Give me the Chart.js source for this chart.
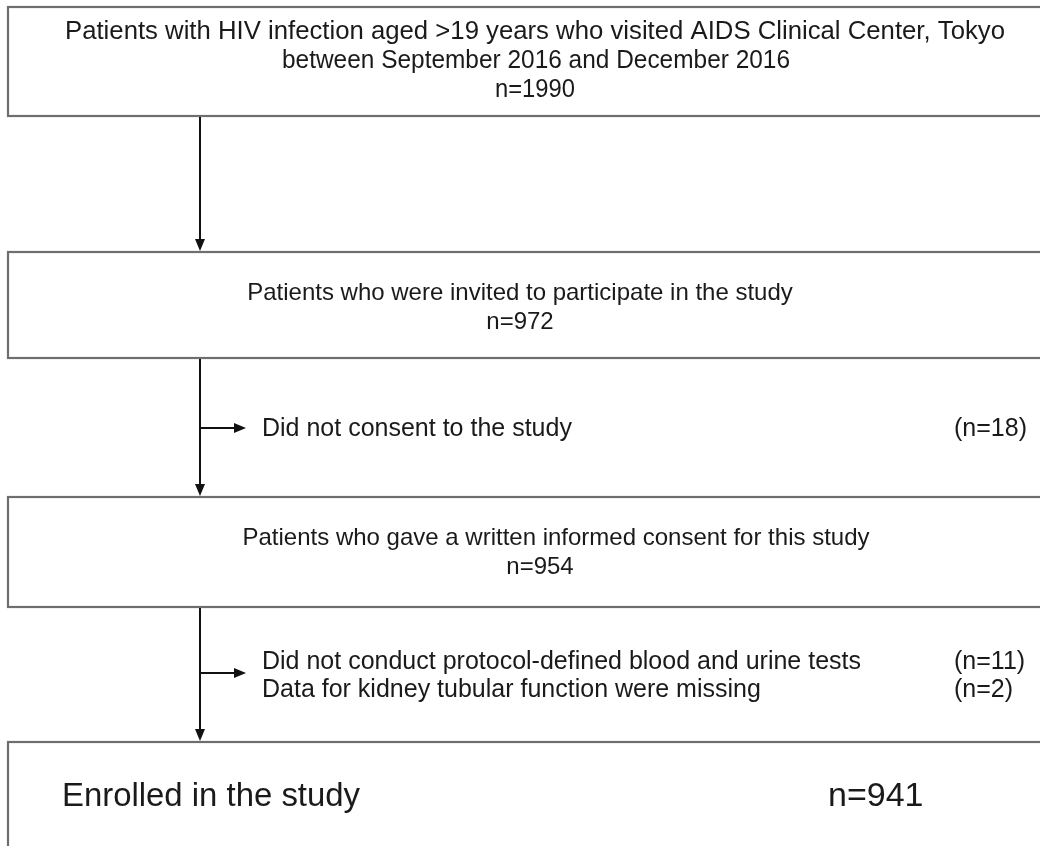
<!DOCTYPE html>
<html>
<head>
<meta charset="utf-8">
<script src="https://cdn.jsdelivr.net/npm/chart.js@4.4.1/dist/chart.umd.min.js"></script>
<style>
  html, body { margin: 0; padding: 0; background: #fff; }
  #flow { display: block; }
</style>
</head>
<body>
<canvas id="flow" width="1040" height="846"></canvas>
<script>
// Flow of patients through the study
const stageLabels = [
    ['Patients with HIV infection aged >19 years who visited AIDS Clinical Center, Tokyo',
     'between September 2016 and December 2016'],
    ['Patients who were invited to participate in the study'],
    ['Patients who gave a written informed consent for this study'],
    ['Enrolled in the study']
];
const stageCounts = [1990, 972, 954, 941];

const exclusionLabels = [
    ['Did not consent to the study'],
    ['Did not conduct protocol-defined blood and urine tests', 'Data for kidney tubular function were missing']
];
const exclusionCounts = [[18], [11, 2]];

// layout, in the units of the (hidden) x / y scales
const boxTop = [7, 252, 497, 742];
const boxBottom = [116, 358, 607, 870];
const boxLeft = 8, boxRight = 1060;
const spineX = 200;
const sideArrowY = [428, 673];
const sideArrowEnd = 246;
const sideTextX = 262;
const sideCountX = 954;
const sideTextY = [[429], [662, 690]];
const lineY = [[32, 61, 90], [293, 322], [538, 567]];
const lineX = [[535, 536, 535], [520, 520], [556, 540]];
// top box uses a condensed face, fitted to the widths in the original
const topBoxWidths = [940, 508, 80];

const FONT = '"Liberation Sans", Arial, sans-serif';

function arrowHead(ctx, x, y, dir) {
    const L = 12, W = 5;
    ctx.beginPath();
    if (dir === 'down') {
        ctx.moveTo(x, y);
        ctx.lineTo(x - W, y - L);
        ctx.lineTo(x + W, y - L);
    } else {
        ctx.moveTo(x, y);
        ctx.lineTo(x - L, y - W);
        ctx.lineTo(x - L, y + W);
    }
    ctx.closePath();
    ctx.fill();
}

function fitText(ctx, text, cx, cy, width) {
    const w = ctx.measureText(text).width;
    ctx.save();
    ctx.translate(cx, cy);
    ctx.scale(width / w, 1);
    ctx.fillText(text, 0, 0);
    ctx.restore();
}

const flowPlugin = {
    id: 'flow',
    afterDraw(chart) {
        const ctx = chart.ctx;
        const xs = chart.scales.x, ys = chart.scales.y;
        const px = v => xs.getPixelForValue(v);
        const py = v => ys.getPixelForValue(v);
        ctx.save();

        // boxes
        ctx.strokeStyle = '#6e6e6e';
        ctx.lineWidth = 2.2;
        stageCounts.forEach((n, i) => {
            ctx.strokeRect(px(boxLeft), py(boxTop[i]), px(boxRight) - px(boxLeft), py(boxBottom[i]) - py(boxTop[i]));
        });

        // spine arrows between boxes
        ctx.strokeStyle = '#111';
        ctx.fillStyle = '#111';
        ctx.lineWidth = 2;
        for (let i = 0; i < stageCounts.length - 1; i++) {
            ctx.beginPath();
            ctx.moveTo(px(spineX), py(boxBottom[i]) + 1);
            ctx.lineTo(px(spineX), py(boxTop[i + 1]) - 6);
            ctx.stroke();
            arrowHead(ctx, px(spineX), py(boxTop[i + 1]) - 1, 'down');
        }

        // side arrows to exclusions
        sideArrowY.forEach(y => {
            ctx.beginPath();
            ctx.moveTo(px(spineX), py(y));
            ctx.lineTo(px(sideArrowEnd) - 6, py(y));
            ctx.stroke();
            arrowHead(ctx, px(sideArrowEnd), py(y), 'right');
        });

        // texts
        ctx.fillStyle = '#1a1a1a';
        ctx.textBaseline = 'middle';
        ctx.textAlign = 'center';

        ctx.font = '26px ' + FONT;
        const topLines = stageLabels[0].concat(['n=' + stageCounts[0]]);
        topLines.forEach((t, j) => fitText(ctx, t, px(lineX[0][j]), py(lineY[0][j]), topBoxWidths[j]));

        ctx.font = '24px ' + FONT;
        for (let i = 1; i < 3; i++) {
            const lines = stageLabels[i].concat(['n=' + stageCounts[i]]);
            lines.forEach((t, j) => ctx.fillText(t, px(lineX[i][j]), py(lineY[i][j])));
        }

        ctx.textAlign = 'left';
        ctx.font = '34px ' + FONT;
        fitText(ctx, stageLabels[3][0], px(62), py(797), 298);
        ctx.fillText('n=' + stageCounts[3], px(828), py(797));

        ctx.font = '25px ' + FONT;
        exclusionLabels.forEach((lines, i) => {
            lines.forEach((t, j) => {
                ctx.fillText(t, px(sideTextX), py(sideTextY[i][j]));
                ctx.fillText('(n=' + exclusionCounts[i][j] + ')', px(sideCountX), py(sideTextY[i][j]));
            });
        });
        ctx.restore();
    }
};

new Chart(document.getElementById('flow'), {
    type: 'scatter',
    data: { datasets: [{ data: [] }] },
    options: {
        responsive: false,
        animation: false,
        events: [],
        layout: { padding: 0 },
        plugins: { legend: { display: false }, tooltip: { enabled: false } },
        scales: {
            x: { type: 'linear', min: 0, max: 1040, display: false },
            y: { type: 'linear', min: 0, max: 846, reverse: true, display: false }
        }
    },
    plugins: [flowPlugin]
});
</script>
</body>
</html>
